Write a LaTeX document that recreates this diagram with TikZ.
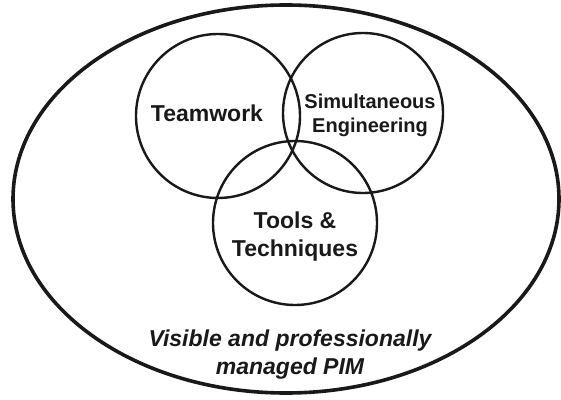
\documentclass[tikz,border=0pt]{standalone}
\usepackage{fontspec}
\setmainfont{Liberation Sans}
\usetikzlibrary{shapes.geometric}

\begin{document}
\begin{tikzpicture}[x=1pt,y=1pt]
		\tikzset{
			area/.style={draw=black!90,line width=2.4pt,circle,inner sep=0pt,minimum size=#1},
			frame/.style={draw=black!90,line width=3.6pt,ellipse,inner sep=0pt,minimum width=546pt,minimum height=388pt},
			lbl/.style={font=\bfseries\fontsize{23}{28}\selectfont,text=black!90,align=center,inner sep=0pt}
		}
		\useasboundingbox (0,0) rectangle (561,399);
		% outer ellipse
		\node[frame] (pim) at (286,200) {};
		% the three circles
		\node[area=164pt] (team) at (218,283) {};
		\node[area=160pt] (sim) at (363,286) {};
		\node[area=164pt] (tools) at (295,176) {};
		% texts
		\node[lbl] (teamtxt) at (207,286) {Teamwork};
		\node[lbl,font=\bfseries\fontsize{20}{24}\selectfont] (simtxt) at (370,284) {Simultaneous\\Engineering};
		\node[lbl] (toolstxt) at (295,162) {Tools \&\\Techniques};
		\node[lbl,font=\bfseries\itshape\fontsize{23}{28}\selectfont] (pimtxt) at (290,44) {Visible and professionally\\managed PIM};
\end{tikzpicture}
\end{document}
